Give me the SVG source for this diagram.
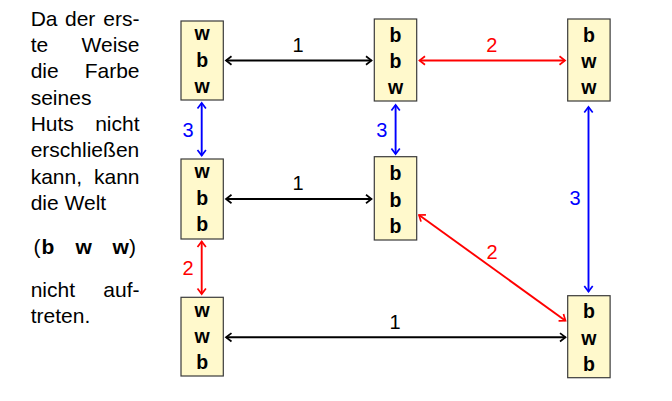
<svg xmlns="http://www.w3.org/2000/svg" width="672" height="401" viewBox="0 0 672 401">
<style>
.box{fill:#FFF9CC;stroke:#3a3a3a;stroke-width:1.2}
.bl{font-family:"Liberation Sans",Arial,sans-serif;font-weight:bold;font-size:19.5px;text-anchor:middle;fill:#000}
.t{font-family:"Liberation Sans",Arial,sans-serif;font-size:21px;fill:#000}
.e{text-anchor:end}
.lab{font-family:"Liberation Sans",Arial,sans-serif;font-size:20px;text-anchor:middle}
.k{stroke:#000;stroke-width:1.9;fill:none}
.r{stroke:#ff0000;stroke-width:1.9;fill:none}
.u{stroke:#0000ff;stroke-width:1.9;fill:none}
</style>
<defs>
<marker id="ak" viewBox="-8 -6 10 12" markerWidth="10" markerHeight="12" refX="0" refY="0" orient="auto-start-reverse" markerUnits="userSpaceOnUse"><path d="M-5.5,-4.2 L0,0 L-5.5,4.2" fill="none" stroke="#000" stroke-width="1.7"/></marker>
<marker id="ar" viewBox="-8 -6 10 12" markerWidth="10" markerHeight="12" refX="0" refY="0" orient="auto-start-reverse" markerUnits="userSpaceOnUse"><path d="M-5.5,-4.2 L0,0 L-5.5,4.2" fill="none" stroke="#ff0000" stroke-width="1.7"/></marker>
<marker id="au" viewBox="-8 -6 10 12" markerWidth="10" markerHeight="12" refX="0" refY="0" orient="auto-start-reverse" markerUnits="userSpaceOnUse"><path d="M-5.5,-4.2 L0,0 L-5.5,4.2" fill="none" stroke="#0000ff" stroke-width="1.7"/></marker>
</defs>
<rect width="672" height="401" fill="#fff"/>
<g id="paragraph">
<text class="t" x="30.7" y="25.7">Da</text><text class="t" x="65" y="25.7">der</text><text class="t e" x="139.5" y="25.7">ers-</text>
<text class="t" x="30.7" y="52">te</text><text class="t e" x="139.5" y="52">Weise</text>
<text class="t" x="30.7" y="78.3">die</text><text class="t e" x="139.5" y="78.3">Farbe</text>
<text class="t" x="30.7" y="104.6">seines</text>
<text class="t" x="30.7" y="130.9">Huts</text><text class="t e" x="139.5" y="130.9">nicht</text>
<text class="t" x="30.7" y="157.2">erschlie&#223;en</text>
<text class="t" x="30.7" y="183.5">kann,</text><text class="t e" x="139.5" y="183.5">kann</text>
<text class="t" x="30.7" y="209.8">die Welt</text>
<text class="t" x="33.5" y="254">(</text><text class="t" x="41.5" y="254" font-weight="bold">b</text><text class="t" x="75.5" y="254" font-weight="bold">w</text><text class="t" x="112.5" y="254" font-weight="bold">w</text><text class="t" x="129" y="254">)</text>
<text class="t" x="30.7" y="297">nicht</text><text class="t e" x="139.5" y="297">auf-</text>
<text class="t" x="30.7" y="323.3">treten.</text>
</g>
<g id="connectors">
<line class="k" x1="226" y1="60.5" x2="371.5" y2="60.5" marker-start="url(#ak)" marker-end="url(#ak)"/>
<text class="lab" x="298" y="51.7" fill="#000">1</text>
<line class="r" x1="419.5" y1="60.5" x2="565" y2="60.5" marker-start="url(#ar)" marker-end="url(#ar)"/>
<text class="lab" x="491.7" y="51.7" fill="#ff0000">2</text>
<line class="u" x1="201.7" y1="103" x2="201.7" y2="155.5" marker-start="url(#au)" marker-end="url(#au)"/>
<text class="lab" x="188" y="136.7" fill="#0000ff">3</text>
<line class="u" x1="395.6" y1="105" x2="395.6" y2="154" marker-start="url(#au)" marker-end="url(#au)"/>
<text class="lab" x="381.7" y="136.7" fill="#0000ff">3</text>
<line class="k" x1="226" y1="199" x2="371.5" y2="199" marker-start="url(#ak)" marker-end="url(#ak)"/>
<text class="lab" x="298" y="190" fill="#000">1</text>
<line class="r" x1="201.7" y1="241.5" x2="201.7" y2="294" marker-start="url(#ar)" marker-end="url(#ar)"/>
<text class="lab" x="188" y="275" fill="#ff0000">2</text>
<line class="k" x1="226" y1="337.3" x2="565.5" y2="337.3" marker-start="url(#ak)" marker-end="url(#ak)"/>
<text class="lab" x="395" y="329" fill="#000">1</text>
<line class="u" x1="588.5" y1="107" x2="588.5" y2="291.5" marker-start="url(#au)" marker-end="url(#au)"/>
<text class="lab" x="575" y="205" fill="#0000ff">3</text>
<line class="r" x1="419" y1="215" x2="565.5" y2="320.7" marker-start="url(#ar)" marker-end="url(#ar)"/>
<text class="lab" x="492" y="259" fill="#ff0000">2</text>
</g>
<g id="n_wbw"><rect class="box" x="181" y="21" width="42.3" height="79"/><text class="bl" x="202.2" y="40">w</text><text class="bl" x="202.2" y="66.7">b</text><text class="bl" x="202.2" y="92.7">w</text></g>
<g id="n_bbw"><rect class="box" x="374.3" y="19" width="42.4" height="82"/><text class="bl" x="395.5" y="41.7">b</text><text class="bl" x="395.5" y="68">b</text><text class="bl" x="395.5" y="93.5">w</text></g>
<g id="n_bww"><rect class="box" x="567.7" y="19" width="42.4" height="82"/><text class="bl" x="588.9" y="41.7">b</text><text class="bl" x="588.9" y="68">w</text><text class="bl" x="588.9" y="93.5">w</text></g>
<g id="n_wbb"><rect class="box" x="181" y="159" width="42.3" height="80"/><text class="bl" x="202.2" y="178">w</text><text class="bl" x="202.2" y="204.7">b</text><text class="bl" x="202.2" y="231">b</text></g>
<g id="n_bbb"><rect class="box" x="374.3" y="156.7" width="42.4" height="83.3"/><text class="bl" x="395.5" y="180">b</text><text class="bl" x="395.5" y="206.5">b</text><text class="bl" x="395.5" y="233">b</text></g>
<g id="n_wwb"><rect class="box" x="181" y="297.3" width="42.3" height="78.7"/><text class="bl" x="202.2" y="316.5">w</text><text class="bl" x="202.2" y="343">w</text><text class="bl" x="202.2" y="369">b</text></g>
<g id="n_bwb"><rect class="box" x="567.7" y="295.7" width="42.4" height="82"/><text class="bl" x="588.9" y="318">b</text><text class="bl" x="588.9" y="344.5">w</text><text class="bl" x="588.9" y="371">b</text></g>
</svg>
